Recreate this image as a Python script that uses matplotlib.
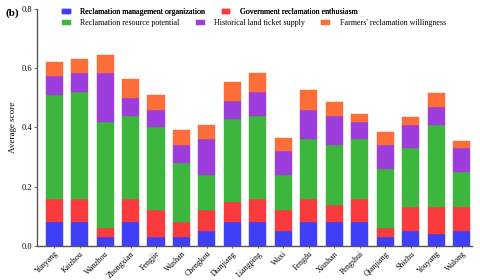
import matplotlib
matplotlib.use("Agg")
import matplotlib.pyplot as plt
import numpy as np

categories = ["Yunyang", "Kaizhou", "Wanzhou", "Zhongxian", "Fengjie", "Wushan",
              "Chengkou", "Dianjiang", "Liangping", "Wuxi", "Fengdu", "Xiushan",
              "Pengshui", "Qianjiang", "Shizhu", "Youyang", "Wulong"]
management = [0.08, 0.08, 0.03, 0.08, 0.03, 0.03, 0.05, 0.08, 0.08, 0.05, 0.08, 0.08, 0.08, 0.03, 0.05, 0.04, 0.05]
government = [0.08, 0.08, 0.03, 0.08, 0.09, 0.05, 0.07, 0.07, 0.08, 0.07, 0.08, 0.06, 0.08, 0.03, 0.08, 0.09, 0.08]
resource   = [0.35, 0.36, 0.36, 0.28, 0.28, 0.20, 0.12, 0.28, 0.28, 0.12, 0.20, 0.20, 0.20, 0.20, 0.20, 0.28, 0.12]
ticket     = [0.065, 0.065, 0.165, 0.06, 0.06, 0.06, 0.12, 0.06, 0.08, 0.08, 0.10, 0.10, 0.06, 0.08, 0.08, 0.06, 0.08]
farmers    = [0.045, 0.045, 0.06, 0.065, 0.05, 0.05, 0.05, 0.065, 0.065, 0.045, 0.065, 0.045, 0.025, 0.045, 0.025, 0.045, 0.025]

series = [
    ("Reclamation management organization", management, "#3f3ff7"),
    ("Government reclamation enthusiasm", government, "#f93b3e"),
    ("Reclamation resource potential", resource, "#3db63d"),
    ("Historical land ticket supply", ticket, "#9d3ddb"),
    ("Farmers' reclamation willingness", farmers, "#fd6d3a"),
]

plt.rcParams['font.family'] = ['Liberation Serif', 'DejaVu Serif']

fig = plt.figure(figsize=(4.8, 2.8), dpi=100)
ax = fig.add_axes([0.077, 0.1214, 0.906, 0.8465])

x = np.arange(len(categories))
bottom = np.zeros(len(categories))
handles = []
for name, vals, col in series:
    b = ax.bar(x, vals, width=0.67, bottom=bottom, color=col, label=name,
               edgecolor=col, linewidth=0.3)
    handles.append(b)
    bottom += np.array(vals)

ax.set_xlim(-0.675, 16.4)
ax.set_ylim(0, 0.8)
ax.set_yticks([0.0, 0.2, 0.4, 0.6, 0.8])
ax.set_yticklabels(["0.0", "0.2", "0.4", "0.6", "0.8"], fontsize=6)
ax.set_xticks(x)
ax.set_xticklabels(categories, rotation=45, ha='right', rotation_mode='anchor', fontsize=5.7)
ax.tick_params(axis='both', length=2, width=0.6, pad=1.5, color='#555555')
ax.tick_params(axis='x', length=1.5, pad=1.2)
for s in ['top', 'right']:
    ax.spines[s].set_visible(False)
for s in ['left', 'bottom']:
    ax.spines[s].set_linewidth(1.0)
    ax.spines[s].set_color('#555555')
ax.set_ylabel("Average score", fontsize=6.5, labelpad=3)

fig.text(0.012, 0.945, "(b)", fontsize=8, fontweight='bold')

common = dict(loc='center left', frameon=False, fontsize=5.8,
              handlelength=1.1, handleheight=0.55, handletextpad=1.2,
              columnspacing=2.0, borderpad=0, borderaxespad=0)
leg1 = fig.legend(handles[:2], [s[0] for s in series[:2]],
                  bbox_to_anchor=(0.129, 0.957), ncol=2, **common)
leg2 = fig.legend(handles[2:], [s[0] for s in series[2:]],
                  bbox_to_anchor=(0.129, 0.917), ncol=3, **common)
fig.add_artist(leg1)

fig.savefig("out.png", dpi=100)
